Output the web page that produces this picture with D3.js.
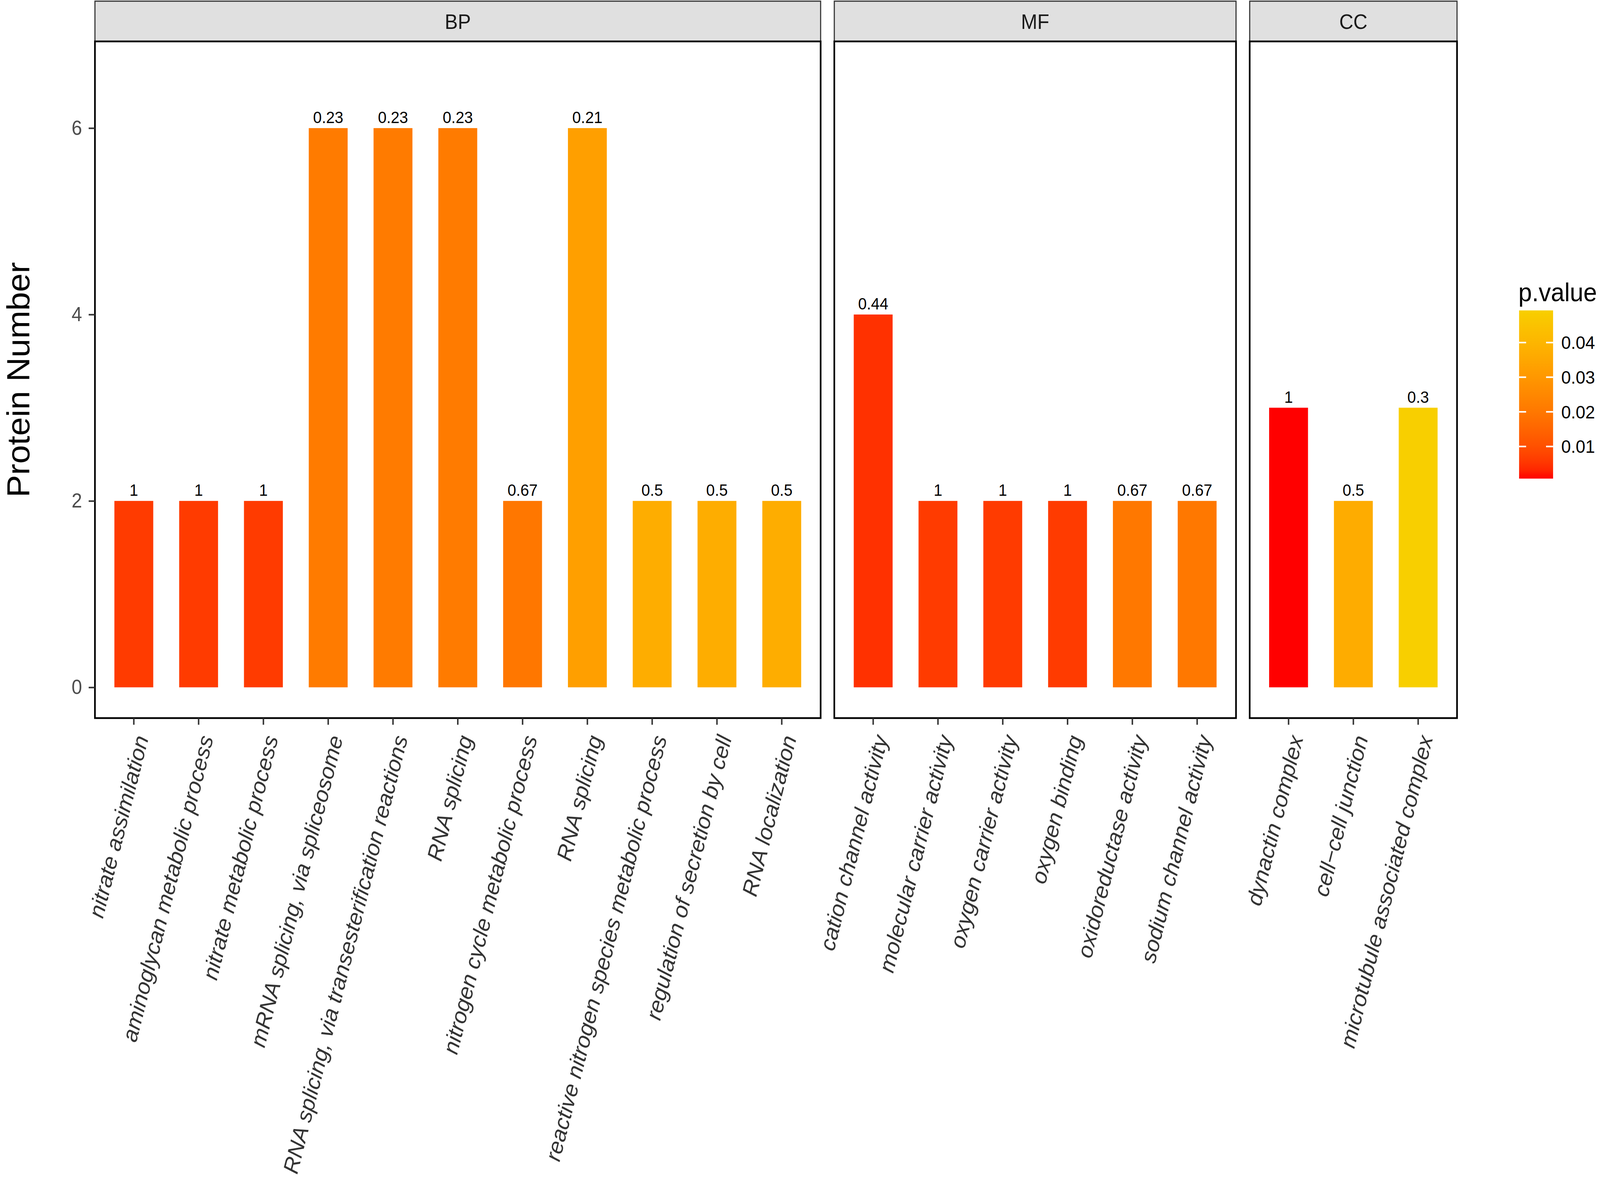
<!DOCTYPE html>
<html>
<head>
<meta charset="utf-8">
<script src="https://cdn.jsdelivr.net/npm/d3@7"></script>
<style>
  html, body { margin: 0; padding: 0; background: #fff; overflow: hidden; }
  #chart { width: 100vw; height: 100vh; }
  svg { display: block; width: 100%; height: 100%; font-family: "Liberation Sans", Arial, Helvetica, sans-serif; }
</style>
</head>
<body>
<div id="chart"></div>
<script>
// GO terms per ontology
const bpTerms = [
  "nitrate assimilation", "aminoglycan metabolic process", "nitrate metabolic process",
  "mRNA splicing, via spliceosome", "RNA splicing, via transesterification reactions",
  "RNA splicing", "nitrogen cycle metabolic process", "RNA splicing",
  "reactive nitrogen species metabolic process", "regulation of secretion by cell", "RNA localization"
];
const bpCounts = [2, 2, 2, 6, 6, 6, 2, 6, 2, 2, 2];
const bpRatios = [1, 1, 1, 0.23, 0.23, 0.23, 0.67, 0.21, 0.5, 0.5, 0.5];
const bpPvalues = [0.0061, 0.0061, 0.0061, 0.0210, 0.0210, 0.0210, 0.0199, 0.0325, 0.0372, 0.0372, 0.0372];

const mfTerms = [
  "cation channel activity", "molecular carrier activity", "oxygen carrier activity",
  "oxygen binding", "oxidoreductase activity", "sodium channel activity"
];
const mfCounts = [4, 2, 2, 2, 2, 2];
const mfRatios = [0.44, 1, 1, 1, 0.67, 0.67];
const mfPvalues = [0.0046, 0.0061, 0.0061, 0.0061, 0.0204, 0.0204];

const ccTerms = ["dynactin complex", "cell\u2212cell junction", "microtubule associated complex"];
const ccCounts = [3, 2, 3];
const ccRatios = [1, 0.5, 0.3];
const ccPvalues = [0.00073, 0.0370, 0.04928];

const yTicks = [0, 2, 4, 6];
const legendTicks = [0.01, 0.02, 0.03, 0.04];

const groups = [
  { name: "BP", terms: bpTerms, counts: bpCounts, ratios: bpRatios, pvals: bpPvalues },
  { name: "MF", terms: mfTerms, counts: mfCounts, ratios: mfRatios, pvals: mfPvalues },
  { name: "CC", terms: ccTerms, counts: ccCounts, ratios: ccRatios, pvals: ccPvalues }
];

const width = 4331;
const height = 3051;

const plotLeft = 257;
const plotRight = 3944;
const panelGap = 37;
const stripTop = 3;
const panelTop = 106;
const panelBottom = 1838;

// drawn in a fixed 4331x3051 coordinate space, stretched to fill the window
const svg = d3.select("#chart").append("svg")
  .attr("viewBox", `0 0 ${width} ${height}`)
  .attr("preserveAspectRatio", "none");

const y = d3.scaleLinear().domain([-0.33, 6.93]).range([panelBottom, panelTop]);

const allP = [...bpPvalues, ...mfPvalues, ...ccPvalues];
const pExtent = d3.extent(allP);
const color = d3.scaleLinear().domain(pExtent).range(["#FF0000", "#F8CF00"]).interpolate(d3.interpolateLab);

// free x space: each panel width proportional to (n - 1 + 1.2)
const units = groups.map((g) => g.terms.length + 0.2);
const unit = (plotRight - plotLeft - panelGap * (groups.length - 1)) / d3.sum(units);

let cursor = plotLeft;
groups.forEach((g, gi) => {
  const x0 = cursor;
  const x1 = x0 + units[gi] * unit;
  cursor = x1 + panelGap;

  const keys = g.terms.map((t, i) => g.name + "-" + i);
  const x = d3.scaleBand().domain(keys).range([x0, x1]).paddingInner(0.4).paddingOuter(0.3);

  const rows = keys.map((k, i) => ({ key: k, term: g.terms[i], count: g.counts[i], ratio: g.ratios[i], p: g.pvals[i] }));

  const panel = svg.append("g");

  // strip
  panel.append("rect")
    .attr("x", x0).attr("y", stripTop)
    .attr("width", x1 - x0).attr("height", panelTop - stripTop)
    .attr("fill", "#E0E0E0").attr("stroke", "#333").attr("stroke-width", 3);

  panel.append("text")
    .attr("x", (x0 + x1) / 2).attr("y", (stripTop + panelTop) / 2)
    .attr("dy", "0.36em").attr("text-anchor", "middle")
    .attr("font-size", 53).attr("fill", "#1A1A1A")
    .text(g.name);

  // bars
  panel.selectAll(".bar")
    .data(rows)
    .enter()
    .append("rect")
    .attr("class", "bar")
    .attr("x", (d) => x(d.key))
    .attr("y", (d) => y(d.count))
    .attr("width", x.bandwidth())
    .attr("height", (d) => y(0) - y(d.count))
    .attr("fill", (d) => color(d.p));

  panel.selectAll(".bar-label")
    .data(rows)
    .enter()
    .append("text")
    .attr("class", "bar-label")
    .attr("x", (d) => x(d.key) + x.bandwidth() / 2)
    .attr("y", (d) => y(d.count) - 13)
    .attr("text-anchor", "middle")
    .attr("font-size", 42)
    .attr("fill", "#000")
    .text((d) => String(d.ratio));

  // panel border
  panel.append("rect")
    .attr("x", x0).attr("y", panelTop)
    .attr("width", x1 - x0).attr("height", panelBottom - panelTop)
    .attr("fill", "none").attr("stroke", "#000").attr("stroke-width", 4.5);

  // x axis
  const termByKey = new Map(rows.map((d) => [d.key, d.term]));
  const xAxis = panel.append("g")
    .attr("transform", `translate(0,${panelBottom})`)
    .call(d3.axisBottom(x).tickSize(17).tickFormat((k) => termByKey.get(k)));
  xAxis.select(".domain").remove();
  xAxis.selectAll(".tick line").attr("stroke", "#333").attr("stroke-width", 4);
  xAxis.selectAll(".tick text")
    .attr("x", 0).attr("y", 0).attr("dy", "0.72em")
    .attr("transform", "translate(0,40) rotate(-75)")
    .attr("text-anchor", "end")
    .attr("font-size", 58)
    .attr("font-style", "italic")
    .attr("font-family", "'Liberation Sans', Arial, sans-serif")
    .attr("fill", "#333");

  // y axis on the first panel only
  if (gi === 0) {
    const yAxis = svg.append("g")
      .attr("transform", `translate(${x0},0)`)
      .call(d3.axisLeft(y).tickValues(yTicks).tickSize(17).tickPadding(18));
    yAxis.select(".domain").remove();
    yAxis.selectAll(".tick line").attr("stroke", "#333").attr("stroke-width", 4);
    yAxis.selectAll(".tick text")
      .attr("font-size", 51)
      .attr("font-family", "'Liberation Sans', Arial, sans-serif")
      .attr("fill", "#4D4D4D");
  }
});

// y title
svg.append("text")
  .attr("transform", `translate(79,${(panelTop + panelBottom) / 2}) rotate(-90)`)
  .attr("text-anchor", "middle")
  .attr("font-size", 86)
  .attr("fill", "#000")
  .text("Protein Number");

// colour bar legend
const legX = 4112;
const legW = 92;
const legTop = 794.5;
const legBottom = 1225;
const legendY = d3.scaleLinear().domain(pExtent).range([legBottom, legTop]);

const grad = svg.append("defs").append("linearGradient")
  .attr("id", "pgrad").attr("x1", 0).attr("y1", 1).attr("x2", 0).attr("y2", 0);
d3.range(0, 1.0001, 0.05).forEach((t) => {
  grad.append("stop")
    .attr("offset", t)
    .attr("stop-color", color(pExtent[0] + t * (pExtent[1] - pExtent[0])));
});

svg.append("text")
  .attr("x", 4110).attr("y", 771)
  .attr("font-size", 66).attr("fill", "#000")
  .text("p.value");

svg.append("rect")
  .attr("x", legX).attr("y", legTop)
  .attr("width", legW).attr("height", legBottom - legTop)
  .attr("fill", "url(#pgrad)");

const legTick = svg.selectAll(".leg-tick")
  .data(legendTicks)
  .enter()
  .append("g")
  .attr("class", "leg-tick")
  .attr("transform", (d) => `translate(0,${legendY(d)})`);

legTick.append("line")
  .attr("x1", legX).attr("x2", legX + 19)
  .attr("stroke", "#fff").attr("stroke-width", 4);
legTick.append("line")
  .attr("x1", legX + legW - 19).attr("x2", legX + legW)
  .attr("stroke", "#fff").attr("stroke-width", 4);
legTick.append("text")
  .attr("x", 4226).attr("dy", "0.35em")
  .attr("font-size", 47).attr("fill", "#000")
  .text((d) => d3.format(".2f")(d));
</script>
</body>
</html>
